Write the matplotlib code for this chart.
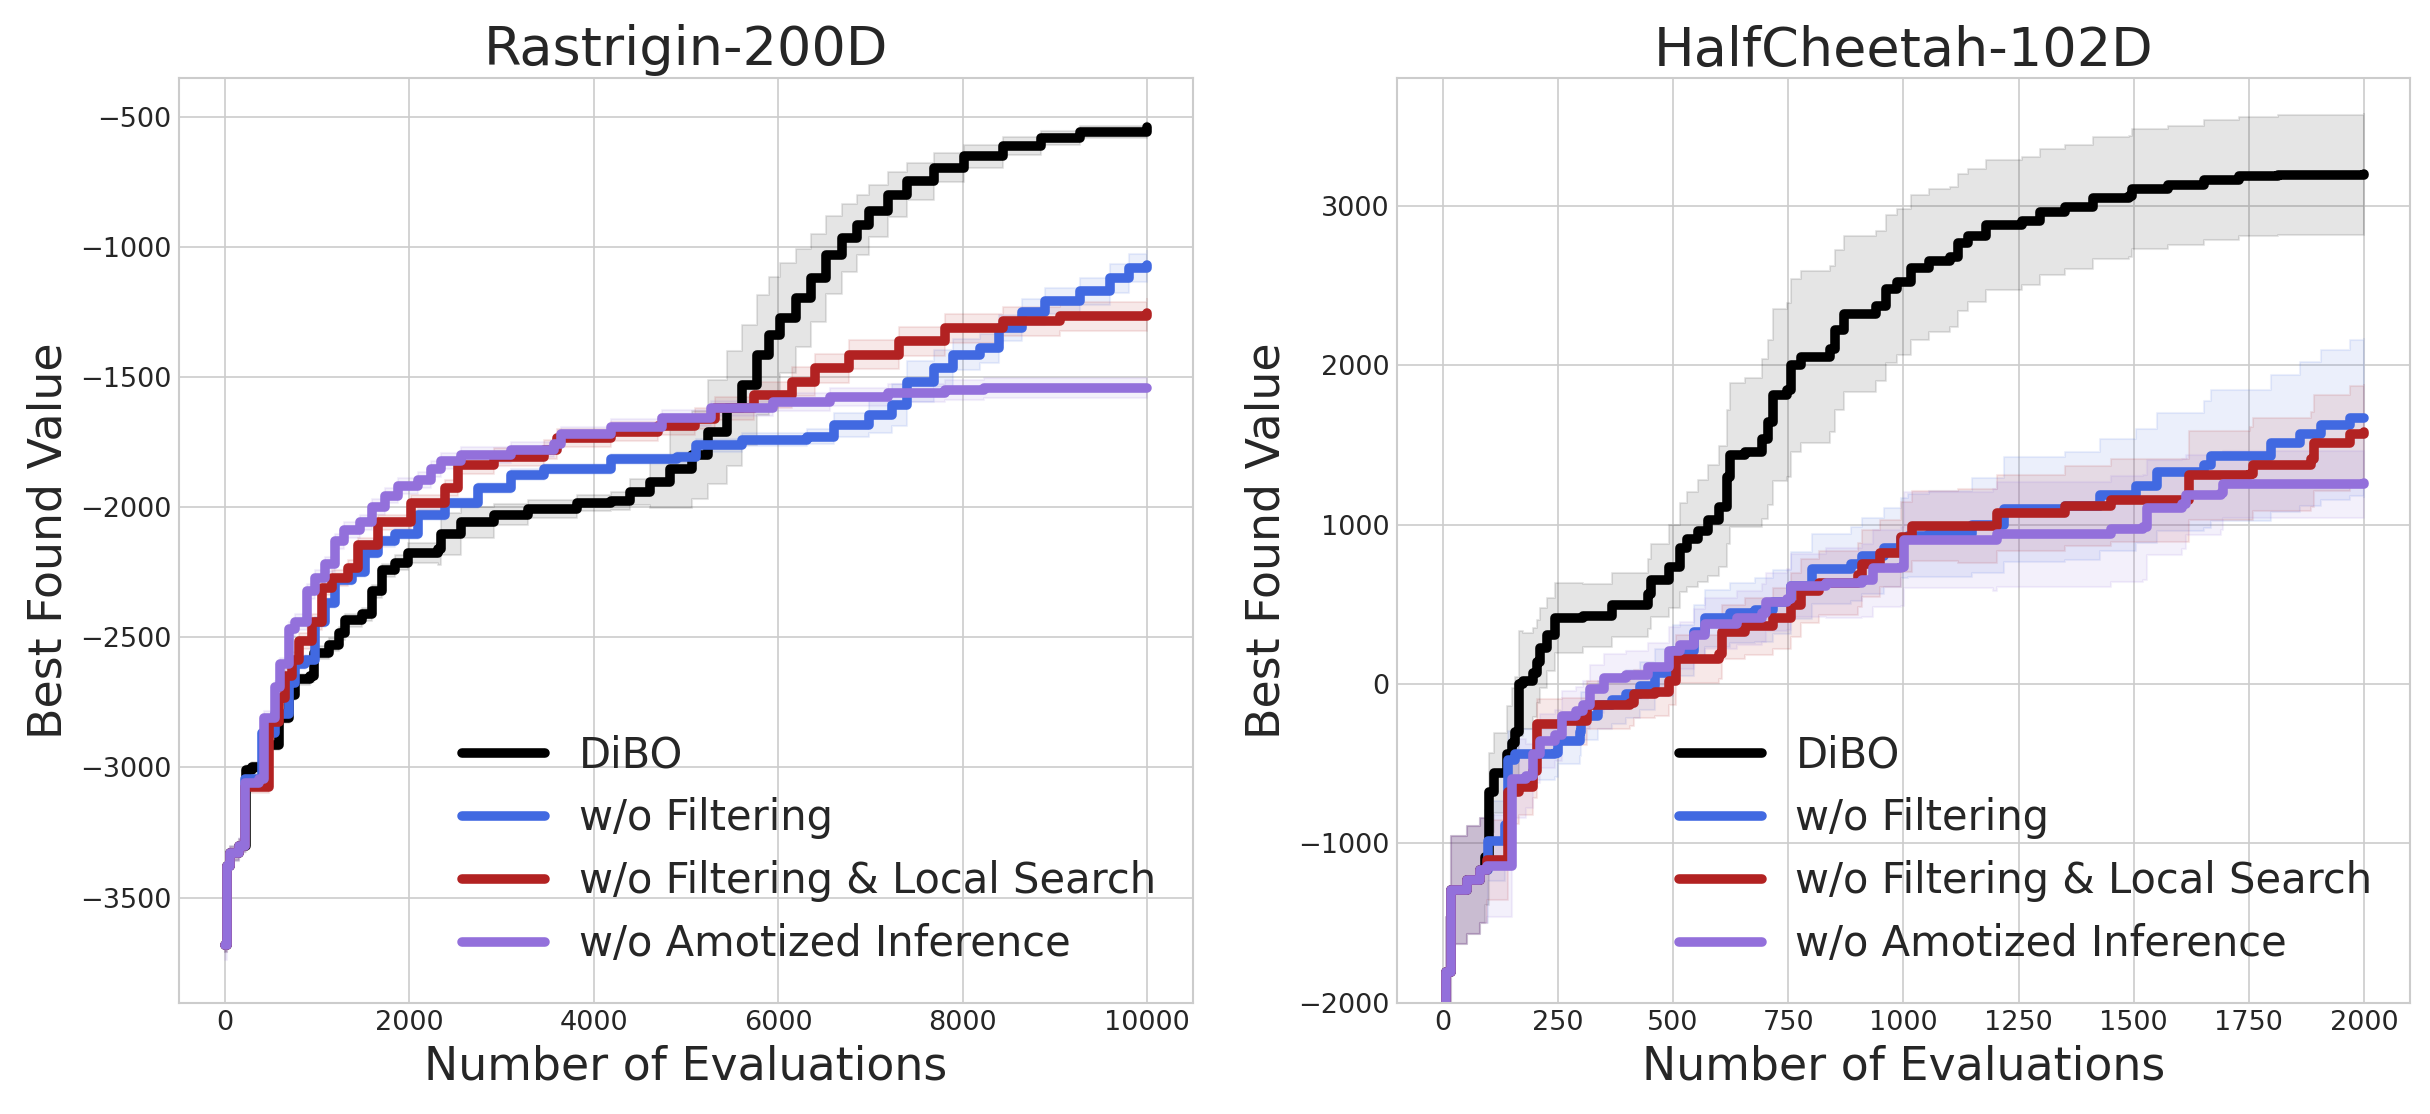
import numpy as np
import matplotlib
matplotlib.use("Agg")
import matplotlib.pyplot as plt

# ---------------- data: Rastrigin-200D ----------------
r_dibo_x = [0, 20, 60, 160, 230, 300, 442, 586, 694, 766, 928, 964, 1126, 1234, 1306, 1486, 1594, 1702, 1845, 1989,
            2313, 2349, 2565, 2924, 3284, 3824, 4183, 4399, 4615, 4831, 5069, 5235, 5443, 5609, 5775, 5900, 6025,
            6191, 6358, 6524, 6690, 6856, 6981, 7189, 7397, 7688, 8021, 8437, 8853, 9268, 10000]
r_dibo_y = [-3680, -3380, -3330, -3300, -3010, -3000, -2912, -2809, -2720, -2662, -2647, -2559, -2529, -2485, -2434,
            -2412, -2324, -2243, -2213, -2176, -2162, -2103, -2059, -2029, -2007, -1985, -1978, -1941, -1904, -1853,
            -1800, -1710, -1621, -1531, -1415, -1338, -1274, -1197, -1121, -1031, -967, -915, -864, -800, -749, -697,
            -653, -614, -582, -559, -541]
r_dibo_s = [30, 30, 30, 25, 20, 20, 20, 20, 20, 20, 25, 25, 25, 25, 25, 25, 25, 25, 30, 40,
            60, 80, 60, 40, 35, 30, 35, 50, 100, 150, 170, 200, 220, 230, 230, 220, 210,
            190, 170, 150, 130, 115, 100, 85, 70, 55, 45, 35, 28, 24, 20]

r_nf_x = [0, 20, 60, 160, 220, 406, 550, 694, 766, 874, 982, 1090, 1198, 1378, 1522, 1665, 1845, 2097, 2385, 2745,
          3104, 3464, 4183, 4903, 5110, 5609, 6316, 6607, 6981, 7231, 7397, 7688, 7896, 8187, 8395, 8645, 8894,
          9268, 9601, 9809, 10000]
r_nf_y = [-3680, -3380, -3330, -3300, -3044, -2868, -2794, -2676, -2603, -2588, -2441, -2368, -2279, -2250, -2176,
          -2132, -2103, -2029, -1985, -1926, -1875, -1853, -1816, -1809, -1762, -1742, -1729, -1685, -1646, -1608,
          -1518, -1467, -1415, -1390, -1313, -1249, -1210, -1172, -1121, -1082, -1072]
r_nf_s = [30, 30, 25, 25, 20, 20, 20, 20, 20, 20, 20, 20, 20, 20, 20, 20, 20, 20, 20, 20,
          20, 20, 20, 20, 25, 25, 30, 45, 70, 80, 80, 70, 60, 55, 50, 50, 50, 50, 55, 55, 55]

r_nfls_x = [0, 20, 60, 160, 220, 478, 586, 658, 730, 802, 946, 1054, 1162, 1342, 1450, 1665, 2025, 2385, 2529, 2924,
            3464, 3608, 4183, 4700, 5100, 5318, 5734, 6150, 6399, 6773, 7314, 7813, 8437, 9060, 10000]
r_nfls_y = [-3680, -3380, -3330, -3300, -3074, -2824, -2735, -2647, -2588, -2515, -2441, -2309, -2272, -2235, -2147,
            -2059, -1985, -1926, -1838, -1809, -1779, -1735, -1710, -1690, -1660, -1621, -1569, -1518, -1467, -1415,
            -1364, -1313, -1287, -1268, -1255]
r_nfls_s = [30, 30, 25, 25, 25, 25, 25, 25, 30, 30, 30, 30, 30, 30, 30, 30, 30, 30, 35, 35,
            35, 35, 35, 35, 40, 45, 50, 55, 55, 55, 55, 55, 55, 55, 55]

r_nai_x = [0, 20, 60, 160, 220, 370, 430, 550, 604, 694, 766, 892, 982, 1090, 1198, 1288, 1468, 1594, 1737, 1881,
           2097, 2241, 2349, 2565, 3104, 3572, 3644, 4183, 4736, 5277, 5942, 6566, 7189, 7813, 8229, 10000]
r_nai_y = [-3680, -3380, -3330, -3300, -3059, -3044, -2809, -2691, -2603, -2470, -2441, -2324, -2272, -2220, -2132,
           -2088, -2059, -2000, -1956, -1919, -1897, -1853, -1824, -1801, -1779, -1757, -1721, -1691, -1659, -1621,
           -1595, -1576, -1563, -1550, -1544, -1544]
r_nai_s = [60, 40, 30, 30, 25, 25, 25, 25, 25, 30, 30, 30, 30, 30, 30, 30, 30, 30, 30, 30,
           30, 30, 30, 30, 30, 30, 30, 30, 30, 30, 35, 35, 35, 38, 38, 38]

# ---------------- data: HalfCheetah-102D ----------------
h_dibo_x = [0, 6, 18, 53, 80, 92, 100, 111, 140, 150, 157, 165, 173, 196, 204, 212, 227, 243, 305, 367,
            445, 452, 491, 514, 530, 553, 576, 600, 616, 624, 655, 693, 705, 716, 748, 755, 778, 840, 852, 871,
            941, 963, 985, 1017, 1056, 1102, 1118, 1141, 1180, 1257, 1296, 1350, 1412, 1489, 1497, 1574, 1652,
            1729, 1814, 2000]
h_dibo_y = [-2600, -1805, -1294, -1230, -1170, -1089, -680, -560, -440, -372, -304, 3, 20, 72, 140, 225, 311, 413,
            430, 498, 567, 652, 737, 857, 908, 959, 1027, 1113, 1300, 1437, 1454, 1539, 1642, 1812, 1846, 2000,
            2051, 2102, 2222, 2324, 2375, 2479, 2524, 2613, 2658, 2681, 2771, 2816, 2883, 2906, 2962, 2996, 3052,
            3063, 3108, 3130, 3164, 3187, 3198, 3202]
h_dibo_s = [300, 340, 340, 340, 330, 300, 250, 250, 300, 350, 350, 330, 300, 280, 260, 250, 230, 220, 200, 200,
            220, 230, 260, 280, 300, 320, 350, 380, 420, 450, 470, 500, 520, 540, 545, 545, 540, 520, 500, 490,
            470, 465, 460, 455, 450, 440, 430, 420, 410, 400, 395, 390, 385, 380, 378, 376, 376, 376, 376, 376]

h_nf_x = [0, 6, 18, 53, 80, 99, 134, 142, 157, 243, 251, 297, 301, 336, 367, 398, 429, 460, 499, 545,
          569, 623, 677, 716, 755, 801, 887, 910, 957, 995, 1009, 1056, 1149, 1218, 1350, 1427, 1505, 1551,
          1652, 1667, 1799, 1861, 1907, 1969, 2000]
h_nf_y = [-2600, -1805, -1294, -1230, -1170, -986, -884, -474, -440, -433, -355, -304, -201, -133, -99, -65, -14,
          72, 208, 328, 413, 447, 464, 515, 618, 720, 754, 805, 857, 918, 930, 940, 996, 1097, 1119, 1187, 1243,
          1333, 1378, 1434, 1512, 1569, 1625, 1670, 1670]
h_nf_s = [300, 340, 340, 340, 330, 250, 220, 180, 160, 150, 150, 150, 150, 150, 150, 150, 150, 150, 160, 170,
          180, 190, 200, 200, 210, 220, 230, 240, 250, 250, 260, 270, 300, 330, 340, 350, 360, 370, 400, 410,
          430, 450, 470, 490, 495]

h_nfls_x = [0, 6, 18, 53, 80, 95, 142, 165, 196, 204, 258, 313, 406, 414, 460, 491, 507, 600, 607, 655,
            716, 755, 778, 817, 902, 910, 949, 995, 1019, 1118, 1203, 1350, 1450, 1621, 1752, 1760, 1884, 1892,
            1969, 2000]
h_nfls_y = [-2600, -1805, -1294, -1230, -1170, -1106, -679, -645, -543, -253, -235, -133, -116, -65, -48, 20, 157,
            191, 328, 362, 413, 498, 584, 635, 686, 754, 822, 925, 993, 993, 1074, 1119, 1153, 1310, 1321, 1378,
            1411, 1512, 1569, 1580]
h_nfls_s = [300, 340, 340, 340, 330, 250, 200, 180, 170, 160, 150, 150, 150, 150, 150, 150, 150, 160, 170, 180,
            190, 200, 200, 200, 200, 210, 210, 220, 220, 230, 240, 250, 260, 280, 290, 290, 300, 300, 300, 300]

h_nai_x = [0, 6, 18, 53, 80, 95, 150, 181, 196, 212, 243, 258, 289, 305, 320, 351, 398, 445, 491, 514,
           545, 569, 638, 693, 701, 747, 755, 832, 910, 933, 994, 1002, 1195, 1203, 1443, 1450, 1520, 1528,
           1605, 1613, 1690, 1694, 2000]
h_nai_y = [-2600, -1805, -1294, -1230, -1170, -1140, -594, -577, -440, -355, -321, -201, -167, -133, -31, 38, 55,
           106, 208, 242, 311, 379, 413, 447, 515, 532, 618, 635, 652, 726, 737, 906, 906, 940, 940, 973, 984,
           1108, 1130, 1187, 1198, 1254, 1265]
h_nai_s = [300, 340, 340, 340, 330, 320, 250, 200, 180, 170, 160, 160, 150, 150, 150, 150, 150, 150, 150, 150,
           160, 160, 170, 180, 180, 190, 200, 220, 230, 240, 250, 300, 320, 330, 330, 330, 330, 300, 280, 250,
           230, 210, 200]

labels = ["DiBO", "w/o Filtering", "w/o Filtering & Local Search", "w/o Amotized Inference"]
colors = ["black", "royalblue", "firebrick", "mediumpurple"]
titles = ["Rastrigin-200D", "HalfCheetah-102D"]

plt.style.use("seaborn-v0_8-whitegrid")
plt.rcParams["font.family"] = ["DejaVu Sans"]

fig = plt.figure(figsize=(16.2, 7.4267), dpi=150)
ax1 = fig.add_axes([0.0735, 0.1, 0.4175, 0.830])
ax2 = fig.add_axes([0.5748, 0.1, 0.4170, 0.830])

left_series = [(r_dibo_x, r_dibo_y, r_dibo_s), (r_nf_x, r_nf_y, r_nf_s),
               (r_nfls_x, r_nfls_y, r_nfls_s), (r_nai_x, r_nai_y, r_nai_s)]
right_series = [(h_dibo_x, h_dibo_y, h_dibo_s), (h_nf_x, h_nf_y, h_nf_s),
                (h_nfls_x, h_nfls_y, h_nfls_s), (h_nai_x, h_nai_y, h_nai_s)]

for ax, series, title in [(ax1, left_series, titles[0]), (ax2, right_series, titles[1])]:
    for (x, y, s), c, lab in zip(series, colors, labels):
        x = np.asarray(x, float)
        y = np.asarray(y, float)
        s = np.asarray(s, float)
        ax.fill_between(x, y - s, y + s, step="post", color=c, alpha=0.1)
        ax.plot(x, y, drawstyle="steps-post", color=c, lw=4.6, label=lab,
                solid_capstyle="round", solid_joinstyle="round")
    ax.set_title(title, fontsize=26)
    ax.set_xlabel("Number of Evaluations", fontsize=22)
    ax.set_ylabel("Best Found Value", fontsize=22)
    ax.tick_params(axis="both", labelsize=13)
    ax.legend(loc="lower right", fontsize=20, frameon=False)

ax1.set_xlim(-500, 10500)
ax1.set_ylim(-3903, -352)
ax1.set_xticks([0, 2000, 4000, 6000, 8000, 10000])
ax1.set_yticks([-3500, -3000, -2500, -2000, -1500, -1000, -500])

ax2.set_xlim(-100, 2100)
ax2.set_ylim(-2000, 3805)
ax2.set_xticks([0, 250, 500, 750, 1000, 1250, 1500, 1750, 2000])
ax2.set_yticks([-2000, -1000, 0, 1000, 2000, 3000])

fig.savefig("out.png", dpi=150)
